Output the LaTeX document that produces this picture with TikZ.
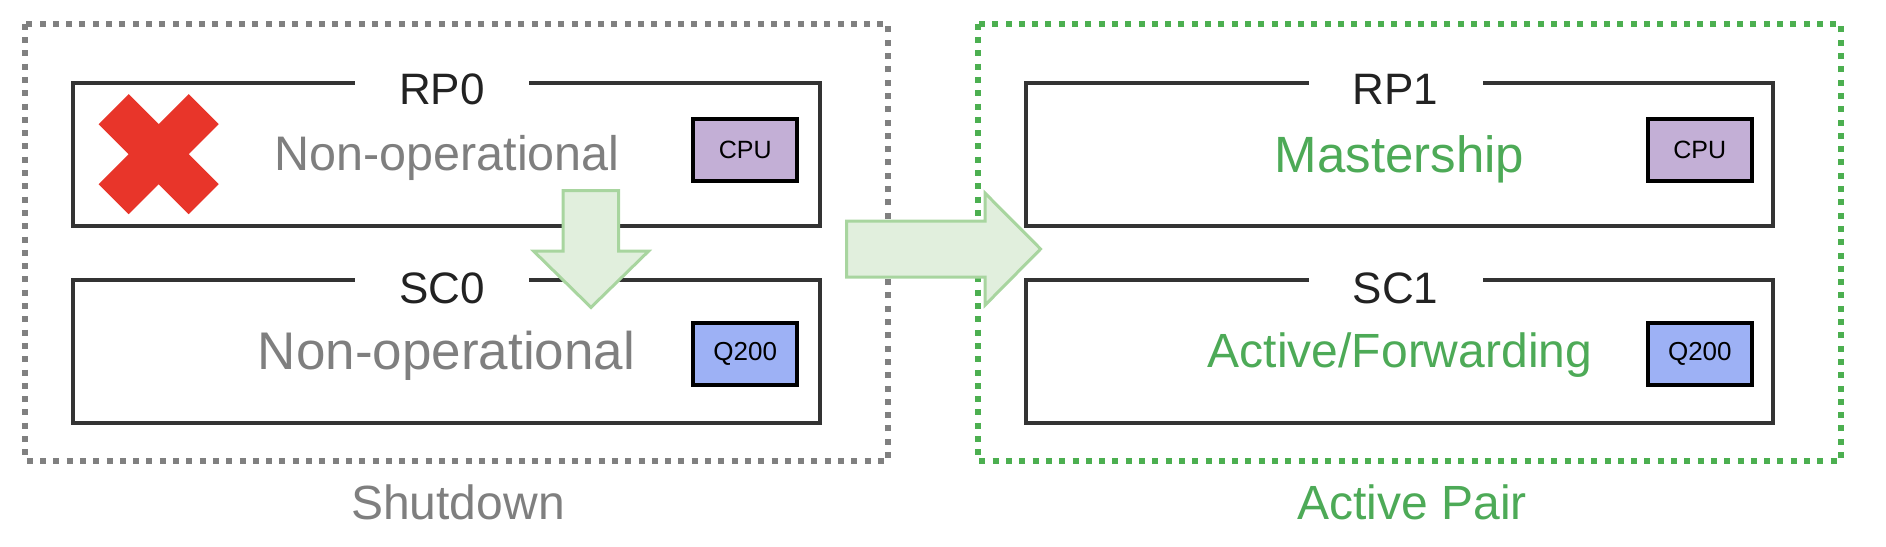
\documentclass[tikz,border=0pt]{standalone}
\usepackage{fontspec}
\setmainfont{Liberation Sans}
\newcommand\fsz[1]{\fontsize{#1pt}{#1pt}\selectfont}
\definecolor{boxline}{HTML}{333333}
\definecolor{titlec}{HTML}{222222}
\definecolor{graytxt}{HTML}{7F7F7F}
\definecolor{grayline}{HTML}{808080}
\definecolor{greentxt}{HTML}{4DAA57}
\definecolor{greenline}{HTML}{4CAF50}
\definecolor{cpufill}{HTML}{C3AFD6}
\definecolor{qfill}{HTML}{9DB1F5}
\definecolor{arrfill}{HTML}{E1EFDD}
\definecolor{arrline}{HTML}{A8D59F}
\definecolor{crossred}{HTML}{E8352A}
\tikzset{
  outerbox/.style={draw, line width=6pt, dash pattern=on 6pt off 7.3pt, fill=none},
  cardbox/.style={draw=boxline, line width=4pt, minimum width=747pt, minimum height=143pt, inner sep=0pt},
  title/.style={fill=white, text=titlec, inner sep=0pt, minimum width=174pt, font=\fsz{44}, anchor=base},
  status/.style={inner sep=0pt, anchor=base},
  chip/.style={draw=black, line width=4pt, minimum width=104.3pt, minimum height=62pt, inner sep=0pt, text=black},
  blockarrow/.style={draw=arrline, fill=arrfill, line width=3pt, line join=miter},
}
\begin{document}
\begin{tikzpicture}[x=1pt, y=-1pt]
\useasboundingbox (0,0) rectangle (1886,546);
% outer groups
\draw[outerbox, draw=grayline] (25.3,23.7) rectangle (888,461.2);
\draw[outerbox, draw=greenline] (978,23.7) rectangle (1840.7,461.2);
% cards
\node[cardbox] (rp0) at (446.4,154.4) {};
\node[cardbox] (sc0) at (446.4,351.4) {};
\node[cardbox] (rp1) at (1399.3,154.4) {};
\node[cardbox] (sc1) at (1399.3,351.4) {};
% titles
\node[title] (rp0t) at (442,104.5) {RP0};
\node[title] (sc0t) at (442,303) {SC0};
\node[title] (rp1t) at (1395.5,104.5) {RP1};
\node[title] (sc1t) at (1395.5,303) {SC1};
% status texts
\node[status, text=graytxt, font=\fsz{48.5}] (rp0s) at (447,170.6) {Non-operational};
\node[status, text=graytxt, font=\fsz{53}] (sc0s) at (446.5,369) {Non-operational};
\node[status, text=greentxt, font=\fsz{51}] (rp1s) at (1399.5,172) {Mastership};
\node[status, text=greentxt, font=\fsz{48}] (sc1s) at (1400,367) {Active/Forwarding};
% chips
\node[chip, fill=cpufill, font=\fsz{25}] (cpu0) at (745.2,149.7) {CPU};
\node[chip, fill=qfill, font=\fsz{26}] (q0) at (745.2,353.5) {Q200};
\node[chip, fill=cpufill, font=\fsz{25}] (cpu1) at (1699.8,149.7) {CPU};
\node[chip, fill=qfill, font=\fsz{26}] (q1) at (1699.8,353.5) {Q200};
% group labels
\node[status, text=graytxt, font=\fsz{48}] (shut) at (458,519) {Shutdown};
\node[status, text=greentxt, font=\fsz{48}] (pair) at (1412,519) {Active Pair};
% red cross
\begin{scope}[shift={(158.7,154.2)}]
\fill[crossred] (-30,-60) -- (0,-30) -- (30,-60) -- (60,-30) -- (30,0) -- (60,30)
  -- (30,60) -- (0,30) -- (-30,60) -- (-60,30) -- (-30,0) -- (-60,-30) -- cycle;
\end{scope}
% block arrows
\draw[blockarrow] (563,190.7) -- (618.7,190.7) -- (618.7,251.2) -- (648.5,251.2)
  -- (591,307.4) -- (533.7,251.2) -- (563,251.2) -- cycle;
\draw[blockarrow] (846.6,221) -- (985.2,221) -- (985.2,193.3) -- (1040.6,249)
  -- (985.2,305) -- (985.2,277) -- (846.6,277) -- cycle;
\end{tikzpicture}
\end{document}
